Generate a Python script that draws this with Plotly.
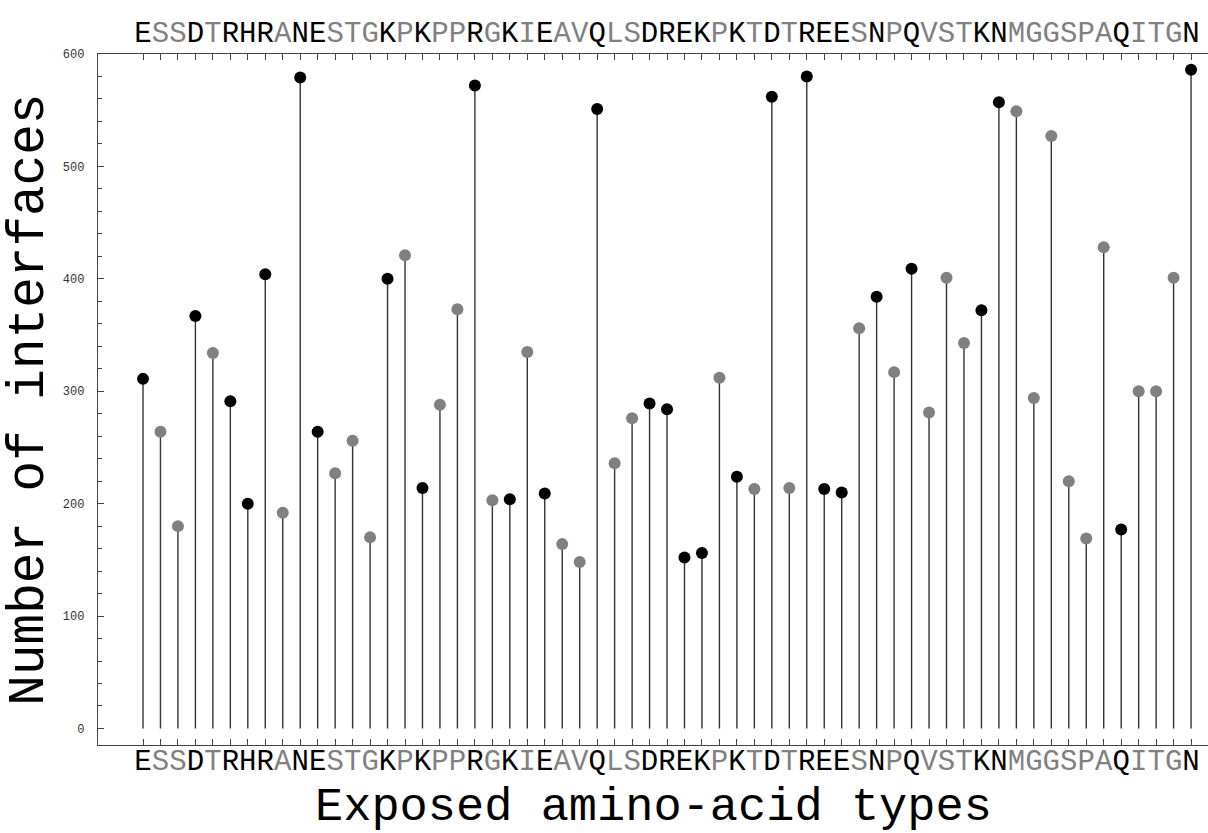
import plotly.graph_objects as go

# ---- data ----
residues = list("ESSDTRHRANESTGKPKPPRGKIEAVQLSDREKPKTDTREESNPQVSTKNMGGSPAQITGN")
interfaces = [311, 264, 180, 367, 334, 291, 200, 404, 192, 579,
              264, 227, 256, 170, 400, 421, 214, 288, 373, 572,
              203, 204, 335, 209, 164, 148, 551, 236, 276, 289,
              284, 152, 156, 312, 224, 213, 562, 214, 580, 213,
              210, 356, 384, 317, 409, 281, 401, 343, 372, 557,
              549, 294, 527, 220, 169, 428, 177, 300, 300, 401,
              586]
dark_residues = ["E", "D", "R", "H", "K", "N", "Q"]
y_ticks = [0, 100, 200, 300, 400, 500, 600]

# ---- styles ----
DARK = "#000000"
GRAY = "#808080"
AXIS = "#444444"
MONO = "Liberation Mono, Courier New, monospace"

positions = list(range(len(residues)))
colors = [DARK if r in dark_residues else GRAY for r in residues]
ticktext = [
    r if r in dark_residues else '<span style="color:%s">%s</span>' % (GRAY, r)
    for r in residues
]

stem_x, stem_y = [], []
for p, v in zip(positions, interfaces):
    stem_x += [p, p, None]
    stem_y += [0, v, None]

fig = go.Figure()
fig.add_trace(go.Scatter(x=stem_x, y=stem_y, mode="lines",
                         line=dict(color="#333333", width=1.4),
                         hoverinfo="skip", showlegend=False))
fig.add_trace(go.Scatter(x=positions, y=interfaces, mode="markers",
                         marker=dict(color=colors, size=12, line=dict(width=0)),
                         text=residues, showlegend=False))
# invisible trace so the top axis is drawn
fig.add_trace(go.Scatter(x=positions, y=interfaces, mode="markers", xaxis="x2",
                         marker=dict(opacity=0), hoverinfo="skip", showlegend=False))

xr = [-2.576, 60.97]
common_x = dict(
    range=xr, tickmode="array", tickvals=positions, ticktext=ticktext,
    ticks="inside", ticklen=6, tickwidth=1, tickcolor=AXIS, tickangle=0,
    showline=True, linecolor=AXIS, linewidth=1.3, showgrid=False, zeroline=False,
    tickfont=dict(family=MONO, size=29, color=DARK),
)

fig.update_layout(
    width=1208, height=833, autosize=False,
    margin=dict(l=98, r=0, t=54, b=88),
    paper_bgcolor="white", plot_bgcolor="white",
    xaxis=dict(**common_x, side="bottom", ticklabelstandoff=-11),
    xaxis2=dict(**common_x, side="top", overlaying="x", matches="x", ticklabelstandoff=-1),
    yaxis=dict(range=[-14.7, 600], tickmode="array", tickvals=y_ticks,
               ticks="inside", ticklen=6, tickwidth=1, tickcolor=AXIS,
               minor=dict(dtick=20, tick0=0, ticks="inside", ticklen=4, tickcolor=AXIS),
               showline=True, linecolor=AXIS, linewidth=1.3,
               showgrid=False, zeroline=False, ticklabelstandoff=10,
               tickfont=dict(family=MONO, size=12, color="#333333")),
    annotations=[
        dict(text="Exposed amino-acid types", xref="paper", yref="paper",
             x=0.5, y=-0.0905, xanchor="center", yanchor="middle", showarrow=False,
             font=dict(family=MONO, size=47, color=DARK)),
        dict(text="Number of interfaces", xref="paper", yref="paper",
             x=-0.062, y=0.5, xanchor="center", yanchor="middle", showarrow=False,
             textangle=-90, font=dict(family=MONO, size=51, color=DARK)),
    ],
)

fig.write_html("out.html", config={"displayModeBar": False},
               post_script="document.body.style.margin='0';")
